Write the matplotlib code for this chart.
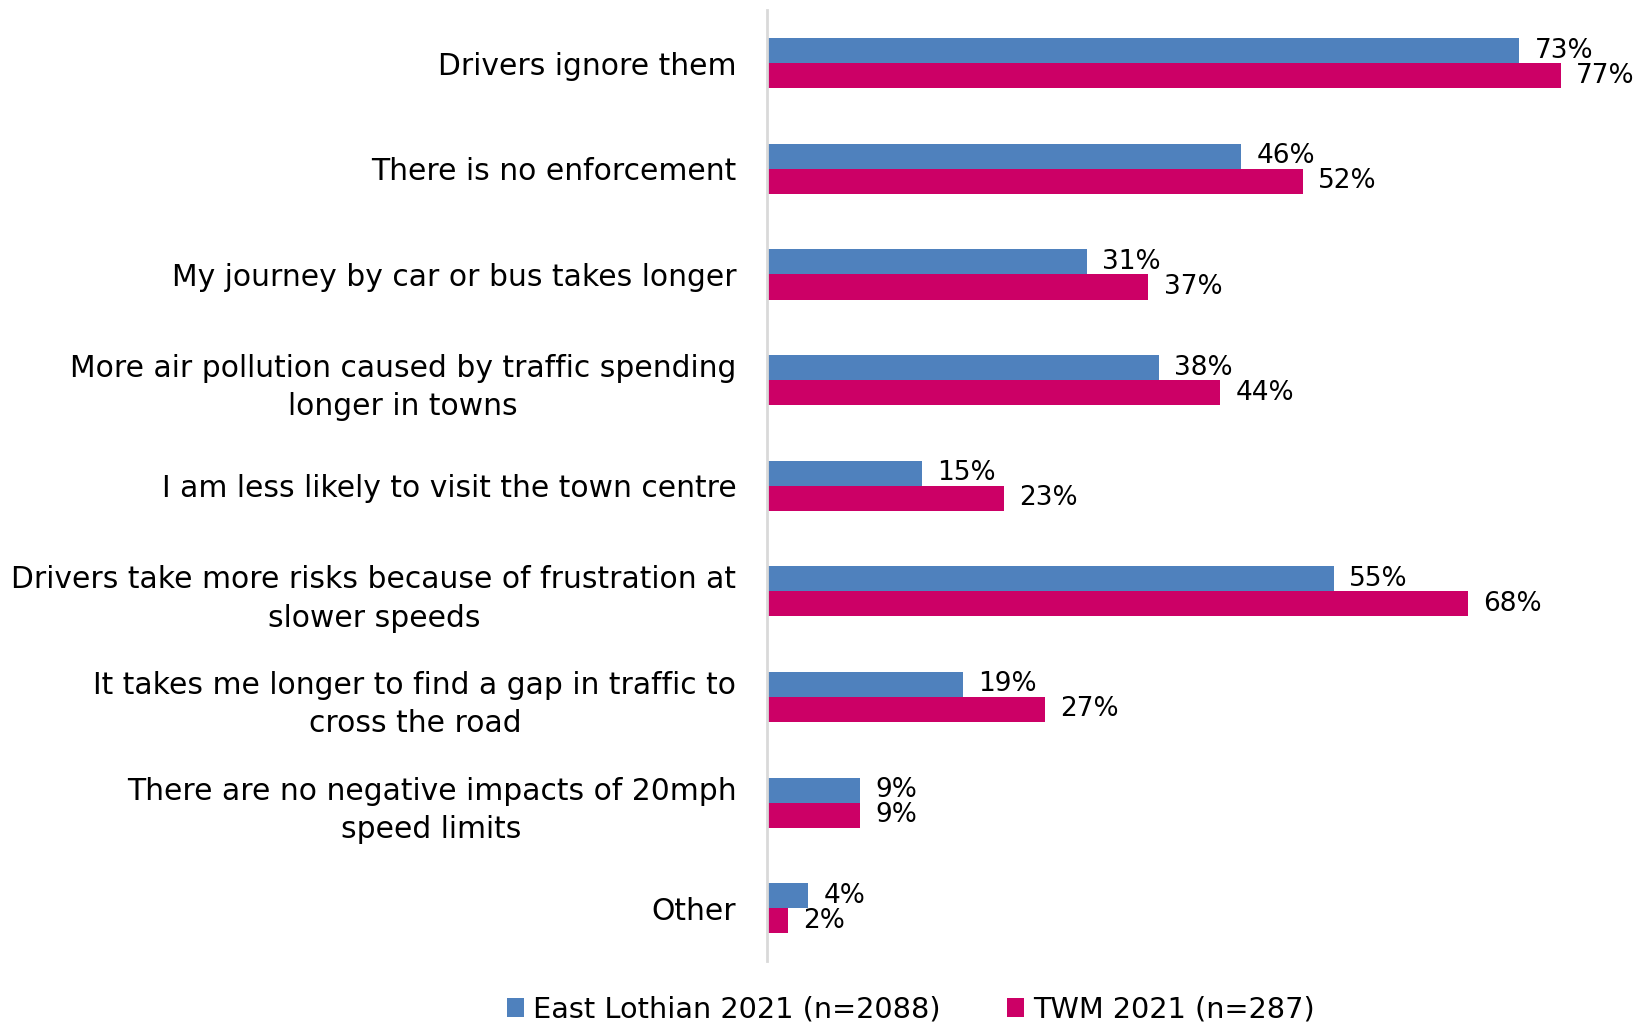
import matplotlib
matplotlib.use("Agg")
import matplotlib.pyplot as plt
import numpy as np

categories = [
    "Drivers ignore them",
    "There is no enforcement",
    "My journey by car or bus takes longer",
    "More air pollution caused by traffic spending\nlonger in towns",
    "I am less likely to visit the town centre",
    "Drivers take more risks because of frustration at\nslower speeds",
    "It takes me longer to find a gap in traffic to\ncross the road",
    "There are no negative impacts of 20mph\nspeed limits",
    "Other",
]
east_lothian = [73, 46, 31, 38, 15, 55, 19, 9, 4]
twm = [77, 52, 37, 44, 23, 68, 27, 9, 2]
series_names = ["East Lothian 2021 (n=2088)", "TWM 2021 (n=287)"]

blue = "#4F81BD"
pink = "#CC0066"

fig = plt.figure(figsize=(16.41, 10.27), dpi=100)
ax = fig.add_axes([0.4674, 0.0643, 0.5326, 0.9255])

y = np.arange(len(categories))
h = 0.237
ax.barh(y - h / 2, east_lothian, height=h, color=blue, label=series_names[0])
ax.barh(y + h / 2, twm, height=h, color=pink, label=series_names[1])

# data labels, next to the bar ends
for i in range(len(categories)):
    ax.annotate(f"{east_lothian[i]}%", (east_lothian[i], y[i] - h / 2), xytext=(11, 0),
                textcoords="offset points", va="center", ha="left", fontsize=19)
    ax.annotate(f"{twm[i]}%", (twm[i], y[i] + h / 2), xytext=(11, 0),
                textcoords="offset points", va="center", ha="left", fontsize=19)

ax.set_xlim(0, 84.8)
ax.set_ylim(len(categories) - 0.5, -0.5)
ax.set_xticks([])
ax.set_yticks(y)
ax.set_yticklabels(categories, fontsize=21.4, linespacing=1.4)
ax.tick_params(axis="y", length=0, pad=22)
for s in ["top", "right", "bottom"]:
    ax.spines[s].set_visible(False)
ax.spines["left"].set_color("#D9D9D9")
ax.spines["left"].set_linewidth(2)
for t in ax.get_yticklabels():
    t.set_horizontalalignment("right")
    t.set_multialignment("center")

fig.legend(loc="center", bbox_to_anchor=(0.555, 0.017), ncol=2, frameon=False, fontsize=20.7,
           handlelength=0.6, handleheight=0.6, handletextpad=0.3, columnspacing=2.3)

fig.savefig("out.png", dpi=100)
